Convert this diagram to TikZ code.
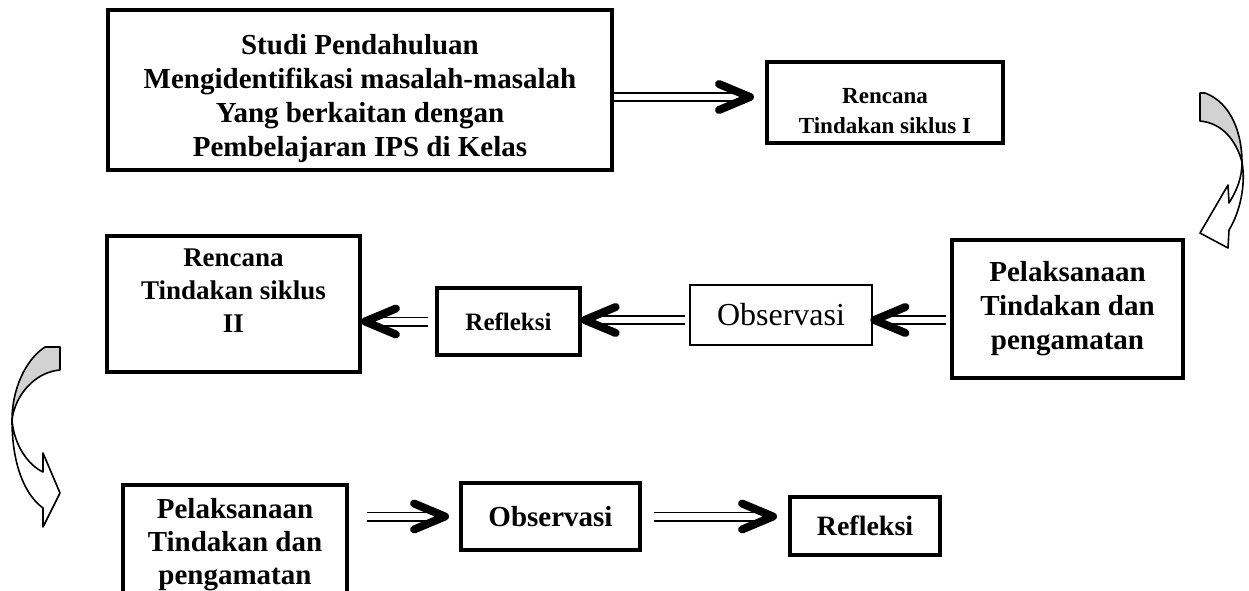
\documentclass[tikz,border=0pt]{standalone}
\usepackage{fontspec}
\setmainfont{Liberation Serif}

\begin{document}
\begin{tikzpicture}[x=0.5pt, y=-0.5pt,
  box/.style={draw, line width=2pt, align=center, inner sep=0pt, font=\bfseries\fontsize{14.5}{17}\selectfont},
  dbl/.style={draw, double, double distance=3.2pt, line width=0.9pt},
  chev/.style={line width=4pt, line cap=round, line join=round},
  chevR/.pic={\draw[chev] (-31,-13) -- (0,0) -- (-31,13);},
  chevL/.pic={\draw[chev] (31,-13) -- (0,0) -- (31,13);},
  turn/.style={draw, line width=0.8pt, line join=round}]

\useasboundingbox (0,0) rectangle (1249,590);

% first row
\node[box, minimum width=252pt, minimum height=80pt] (studi) at (360,90) {\rule{0pt}{19pt}Studi Pendahuluan\\Mengidentifikasi masalah-masalah\\Yang berkaitan dengan\\Pembelajaran IPS di Kelas};
\node[box, minimum width=118pt, minimum height=40.5pt, font=\bfseries\fontsize{11.5}{15}\selectfont] (rencA) at (885,102.5) {\rule{0pt}{16pt}Rencana\\Tindakan siklus I};

% second row
\node[box, minimum width=115.5pt, minimum height=69pt] (pelA) at (1067.5,309) {Pelaksanaan\\Tindakan dan\\pengamatan};
\node[box, line width=1.4pt, minimum width=91pt, minimum height=30pt, font=\fontsize{16}{18}\selectfont] (obsA) at (781,315) {Observasi};
\node[box, line width=1.7pt, minimum width=71.5pt, minimum height=33.5pt, font=\bfseries\fontsize{12.5}{15}\selectfont] (reflA) at (508.5,321.5) {Refleksi};
\node[box, minimum width=126.5pt, minimum height=68pt, font=\bfseries\fontsize{13.5}{16.5}\selectfont] (rencB) at (233.5,304) {Rencana\\Tindakan siklus\\II\rule[-13pt]{0pt}{13pt}};

% third row
\node[box, minimum width=112pt, minimum height=56.5pt, font=\bfseries\fontsize{14.5}{16.5}\selectfont] (pelB) at (235,541.5) {\rule{0pt}{13pt}Pelaksanaan\\Tindakan dan\\pengamatan};
\node[box, minimum width=89.5pt, minimum height=33.5pt] (obsB) at (550.5,516.5) {Observasi};
\node[box, minimum width=75pt, minimum height=29pt, font=\bfseries\fontsize{14}{17}\selectfont] (reflB) at (865,526) {Refleksi};

% double arrows
\coordinate (t1) at ([xshift=-7.5pt,yshift=2.75pt]rencA.west);
\draw[dbl] (studi.east |- t1) -- ([xshift=-3pt]t1);
\path (t1) pic {chevR};

\coordinate (t2) at ([xshift=0.5pt,yshift=-2.5pt]obsA.east);
\draw[dbl] ([xshift=-2pt]pelA.west |- t2) -- ([xshift=3pt]t2);
\path (t2) pic {chevL};

\coordinate (t3) at ([xshift=1.5pt]reflA.east |- t2);
\draw[dbl] ([xshift=-2pt]obsA.west |- t3) -- ([xshift=3pt]t3);
\path (t3) pic {chevL};

\coordinate (t4) at ([xshift=1.5pt]rencB.east |- reflA.west);
\draw[dbl] ([xshift=-3.5pt]reflA.west |- t4) -- ([xshift=3pt]t4);
\path (t4) pic {chevL};

\coordinate (t5) at ([xshift=-7pt]obsB.west);
\draw[dbl] ([xshift=9pt]pelB.east |- t5) -- ([xshift=-3pt]t5);
\path (t5) pic {chevR};

\coordinate (t6) at ([xshift=-7.5pt]reflB.west |- obsB.east);
\draw[dbl] ([xshift=6pt]obsB.east) -- ([xshift=-3pt]t6);
\path (t6) pic {chevR};

% curved arrow on the right
\filldraw[turn, fill=gray!35] (1200,93) -- (1205,93) .. controls (1232,103) and (1242,135) .. (1242,162)
  .. controls (1236,140) and (1222,123) .. (1200,121) -- cycle;
\filldraw[turn, fill=white] (1242,162) .. controls (1246,185) and (1240,212) .. (1229,230)
  -- (1228,248) -- (1200,233) -- (1228,185) -- (1229,203)
  .. controls (1237,190) and (1242,178) .. (1242,162) -- cycle;

% curved arrow on the left
\filldraw[turn, fill=gray!35] (45,347) -- (60,347) -- (60,370) .. controls (35,372) and (15,395) .. (12,420)
  .. controls (12,390) and (25,360) .. (45,347) -- cycle;
\filldraw[turn, fill=white] (12,420) .. controls (14,445) and (28,465) .. (43,472)
  -- (43,453) -- (60,493) -- (43,527) -- (43,508)
  .. controls (25,495) and (12,465) .. (12,420) -- cycle;

\end{tikzpicture}
\end{document}
